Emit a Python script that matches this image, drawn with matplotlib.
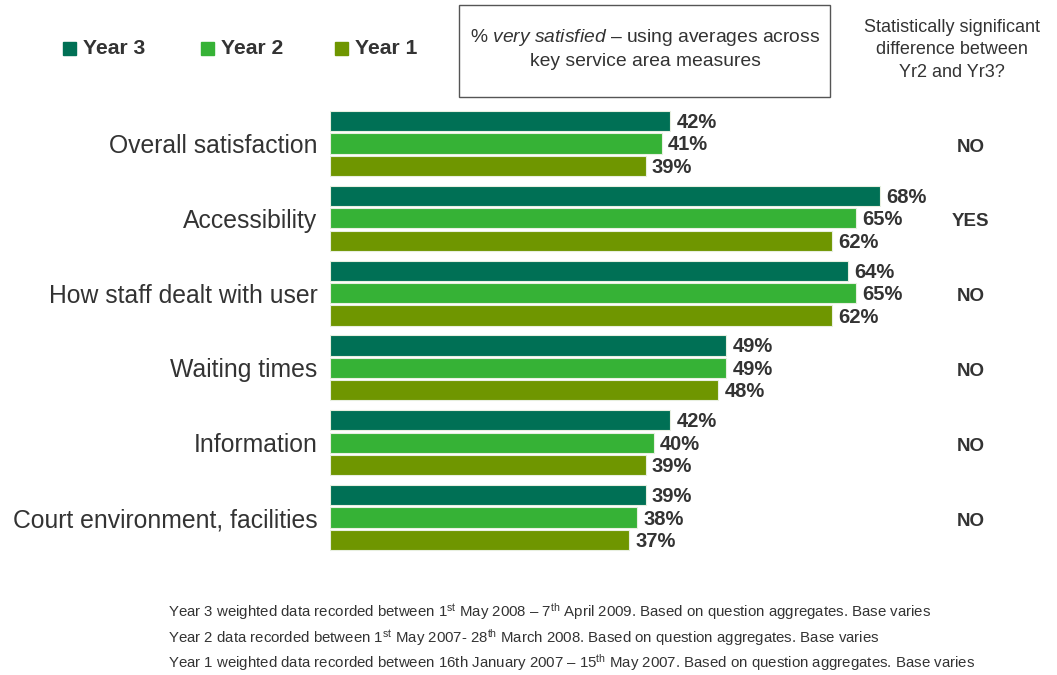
import matplotlib.pyplot as plt
import matplotlib.patches as mpatches
import numpy as np

plt.rcParams['font.family'] = ['Liberation Sans', 'DejaVu Sans']
plt.rcParams['mathtext.fontset'] = 'custom'
plt.rcParams['mathtext.rm'] = 'Liberation Sans'
plt.rcParams['mathtext.it'] = 'Liberation Sans:italic'

# --- data ---
categories = ["Overall satisfaction", "Accessibility", "How staff dealt with user",
              "Waiting times", "Information", "Court environment, facilities"]
year3 = [42, 68, 64, 49, 42, 39]
year2 = [41, 65, 65, 49, 40, 38]
year1 = [39, 62, 62, 48, 39, 37]
significant = ["NO", "YES", "NO", "NO", "NO", "NO"]
series_names = ["Year 3", "Year 2", "Year 1"]
colors = ["#007055", "#36b236", "#6f9600"]
footnotes = [
    r"Year 3 weighted data recorded between 1$^{\rm st}$ May 2008 – 7$^{\rm th}$ April 2009. Based on question aggregates. Base varies",
    r"Year 2 data recorded between 1$^{\rm st}$ May 2007- 28$^{\rm th}$ March 2008. Based on question aggregates. Base varies",
    r"Year 1 weighted data recorded between 16th January 2007 – 15$^{\rm th}$ May 2007. Based on question aggregates. Base varies",
]

text_col = "#333333"
W, H = 1057, 675
fig = plt.figure(figsize=(W / 100, H / 100), dpi=100)

# axes placed in pixel terms: value 0 at x=330, 8.09 px per %
ax_left = 330 / W
xmax = 85
ax_w = xmax * 8.09 / W
ax = fig.add_axes([ax_left, (H - 555) / H, ax_w, 449 / H])

y = np.arange(len(categories))
offsets = [-0.3, 0.0, 0.3]
bh = 0.27
for vals, off, c in zip([year3, year2, year1], offsets, colors):
    bars = ax.barh(y + off, vals, height=bh, color=c, edgecolor="#e8efe0", linewidth=0.8)
    for b, v in zip(bars, vals):
        ax.text(v + 0.8, b.get_y() + b.get_height() / 2 + 0.02, f"{v}%", va="center", ha="left",
                fontsize=14.5, fontweight="bold", color=text_col)

for yi, s in zip(y, significant):
    ax.text(79.2, yi + 0.05, s, ha="center", va="center", fontsize=13.5, fontweight="bold", color=text_col)

ax.set_xlim(0, xmax)
ax.set_ylim(5.5, -0.5)
ax.set_yticks(y)
ax.set_yticklabels(categories, fontsize=17.8, color=text_col)
ax.tick_params(axis="y", length=0, pad=9)
ax.set_xticks([])
for sp in ax.spines.values():
    sp.set_visible(False)

# --- legend ---
leg_x = [63, 201, 335]
for lx, name, c in zip(leg_x, series_names, colors):
    fig.patches.append(mpatches.Rectangle((lx / W, (H - 55) / H), 13 / W, 13 / H,
                                          transform=fig.transFigure, color=c))
    fig.text((lx + 20) / W, (H - 48) / H, name, fontsize=15.2, fontweight="bold",
             color=text_col, va="center", ha="left")

# --- boxed note ---
fig.patches.append(mpatches.Rectangle((459 / W, (H - 97) / H), 371 / W, 92 / H,
                                      transform=fig.transFigure, fill=False,
                                      edgecolor="#555555", linewidth=1.0))
fig.text(645 / W, (H - 38) / H, r"% $\mathit{very\ satisfied}$ – using averages across",
         ha="center", va="center", fontsize=13.9, color=text_col)
fig.text(645 / W, (H - 62) / H, "key service area measures",
         ha="center", va="center", fontsize=13.9, color=text_col)

# --- significance header ---
for i, line in enumerate(["Statistically significant", "difference between", "Yr2 and Yr3?"]):
    fig.text(952 / W, (H - 27.5 - 22.5 * i) / H, line, ha="center", va="center",
             fontsize=13, color=text_col)

# --- footnotes ---
for i, line in enumerate(footnotes):
    fig.text(168 / W, (H - 612 - 25.5 * i) / H, line, ha="left", va="center",
             fontsize=10.8, color=text_col)

plt.savefig("out.png", dpi=100)
